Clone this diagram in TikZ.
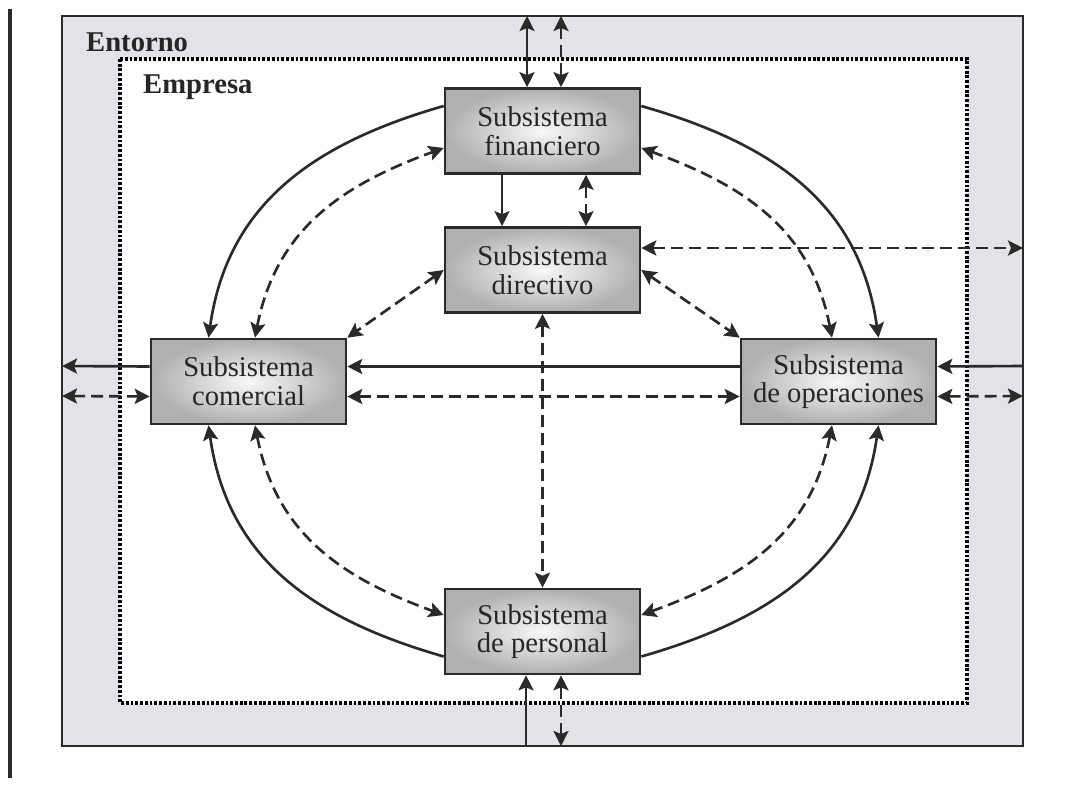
\documentclass[tikz,border=0pt]{standalone}
\usepackage{fontspec}
\setmainfont{Liberation Serif}
\usetikzlibrary{arrows.meta, positioning, calc}
\definecolor{eGray}{HTML}{E1E3E6}
\definecolor{eDark}{HTML}{2A2A2A}

\begin{document}
\begin{tikzpicture}[x=0.02cm, y=0.02cm,
      box/.style={draw=eDark, line width=1.5pt, minimum width=3.9cm, minimum height=1.7cm,
        inner sep=0pt, inner color=gray!5, outer color=gray!62, align=center,
        text=black!85, font=\fontsize{16.3}{16.3}\selectfont},
      lbl/.style={anchor=base west, font=\fontsize{16.3}{16.3}\selectfont\bfseries, text=black!85},
      tip/.tip={Stealth[length=3mm, width=3mm, inset=0.6mm]},
      sol/.style={eDark, line width=1.5pt, arrows={-tip}},
      dsh/.style={sol, dash pattern=on 2.4mm off 1.2mm},
      both/.style={arrows={tip-tip}}]
    \useasboundingbox (0,0) rectangle (1070,-787);
    \draw[eDark, line width=2pt] (10,-9) -- (10,-778);
    \draw[eDark, fill=eGray, line width=1.6pt] (62,-16) rectangle (1023,-746);
    \draw[black, fill=white, line width=1.8pt, dash pattern=on 1.6pt off 1.1pt] (120,-59) rectangle (967,-703);
    \node[lbl] (ent) at (80,-52) {Entorno};
    \node[lbl] (emp) at (137,-94) {Empresa};

    \node[box] (fin) at (542.5,-131)   {Subsistema\\financiero};
    \node[box] (dir) at (542.5,-270)   {Subsistema\\directivo};
    \node[box] (com) at (248.5,-381.5) {Subsistema\\comercial};
    \node[box] (ope) at (838.5,-381.5) {Subsistema\\de operaciones};
    \node[box] (per) at (542.5,-631.5) {Subsistema\\de personal};

    \coordinate (eT1) at (527,-16);  \coordinate (eT2) at (561,-16);
    \coordinate (eB1) at (526,-746); \coordinate (eB2) at (561,-746);
    \coordinate (eL1) at (62,-366);  \coordinate (eL2) at (62,-396);
    \coordinate (eR0) at (1023,-248);
    \coordinate (eR1) at (1023,-366); \coordinate (eR2) at (1023,-396);

    \draw[sol, both] (eT1) -- (eT1 |- fin.north);
    \draw[dsh, both] (eT2) -- (eT2 |- fin.north);
    \draw[sol] ([xshift=-0.81cm]fin.south) -- ([xshift=-0.81cm]dir.north);
    \draw[dsh, both] ([xshift=0.87cm]fin.south) -- ([xshift=0.87cm]dir.north);
    \draw[dsh, both] (eR0 -| dir.east) -- (eR0);
    \draw[dsh, both] (dir.east) -- (ope.north west);
    \draw[dsh, both] (dir.west) -- (com.north east);
    \draw[dsh, both] (dir.south) -- (per.north);

    \draw[sol] ([yshift=0.3cm]com.west) -- (eL1);
    \draw[dsh, both] (eL2) -- ([yshift=-0.3cm]com.west);
    \draw[sol] ([yshift=0.3cm]ope.west) -- ([yshift=0.3cm]com.east);
    \draw[dsh, both] ([yshift=-0.3cm]com.east) -- ([yshift=-0.3cm]ope.west);
    \draw[sol] (eR1) -- ([yshift=0.3cm]ope.east);
    \draw[dsh, both] ([yshift=-0.3cm]ope.east) -- (eR2);

    \draw[sol] (eB1) -- (eB1 |- per.south);
    \draw[dsh, both] (eB2 |- per.south) -- (eB2);

    \draw[sol] ([yshift=0.5cm]fin.west) to[out=196, in=82, looseness=1.05] ([xshift=-0.8cm]com.north);
    \draw[dsh, both] ([xshift=0.13cm]com.north) to[out=79, in=200, looseness=1.05] ([yshift=-0.34cm]fin.west);
    \draw[sol] ([yshift=0.5cm]fin.east) to[out=-16, in=98, looseness=1.05] ([xshift=0.8cm]ope.north);
    \draw[dsh, both] ([xshift=-0.13cm]ope.north) to[out=101, in=-20, looseness=1.05] ([yshift=-0.34cm]fin.east);
    \draw[sol] ([yshift=-0.5cm]per.west) to[out=164, in=-82, looseness=1.05] ([xshift=-0.8cm]com.south);
    \draw[dsh, both] ([xshift=0.13cm]com.south) to[out=-79, in=160, looseness=1.05] ([yshift=0.33cm]per.west);
    \draw[sol] ([yshift=-0.5cm]per.east) to[out=16, in=-98, looseness=1.05] ([xshift=0.8cm]ope.south);
    \draw[dsh, both] ([xshift=-0.13cm]ope.south) to[out=-101, in=20, looseness=1.05] ([yshift=0.33cm]per.east);
  \end{tikzpicture}
\end{document}
